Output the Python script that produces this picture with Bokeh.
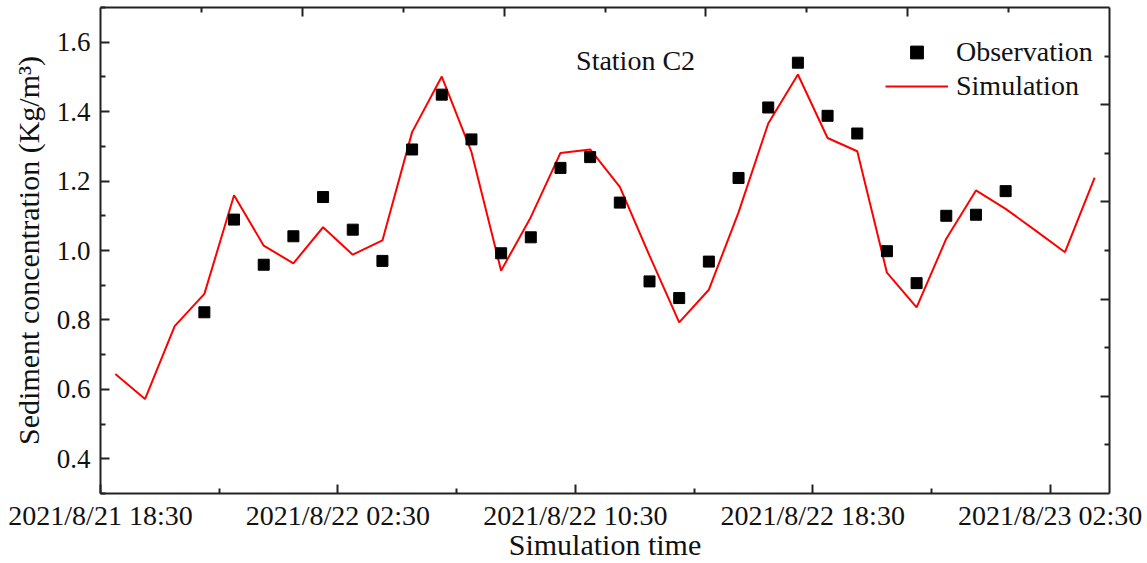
import pandas as pd
from bokeh.plotting import figure
from bokeh.models import (Range1d, LinearAxis, FixedTicker, Label, Legend,
                          LegendItem, PrintfTickFormatter, ColumnDataSource,
                          CustomJSTickFormatter)
from bokeh.embed import file_html
from bokeh.resources import INLINE

# ---------------- data ----------------
start_time = "2021/8/21 18:30"
end_time = "2021/8/23 04:30"

sim_times = pd.date_range("2021-08-21 19:00", "2021-08-23 04:00", freq="h")
sim_values = [0.644, 0.572, 0.782, 0.875, 1.159,
              1.014, 0.963, 1.067, 0.988, 1.029, 1.341, 1.501, 1.284,
              0.942, 1.096, 1.281, 1.291, 1.183, 0.985, 0.793, 0.887,
              1.110, 1.366, 1.507, 1.324, 1.286, 0.936, 0.836, 1.034,
              1.173, 1.120, 1.058, 0.995, 1.210]

obs_times = pd.date_range("2021-08-21 22:00", "2021-08-23 01:00", freq="h")
obs_values = [0.822, 1.089,
              0.959, 1.041, 1.154, 1.060, 0.970, 1.291, 1.449, 1.320,
              0.992, 1.038, 1.238, 1.269, 1.138, 0.911, 0.863, 0.968,
              1.209, 1.412, 1.541, 1.388, 1.337, 0.998, 0.906, 1.100,
              1.103, 1.171]

x_tick_labels = ["2021/8/21 18:30", "2021/8/22 02:30", "2021/8/22 10:30",
                 "2021/8/22 18:30", "2021/8/23 02:30"]
x_minor_labels = ["2021/8/21 22:30", "2021/8/22 06:30", "2021/8/22 14:30",
                  "2021/8/22 22:30"]
y_ticks = [0.4, 0.6, 0.8, 1.0, 1.2, 1.4, 1.6]
y_minor = [0.3, 0.5, 0.7, 0.9, 1.1, 1.3, 1.5, 1.7]
frac_ticks = [0.2, 0.4, 0.6, 0.8]
frac_minor = [0.1, 0.3, 0.5, 0.7, 0.9]

station_name = "Station C2"

# ---------------- helpers ----------------
FMT = "%Y/%m/%d %H:%M"
t0 = pd.to_datetime(start_time, format=FMT)
t1 = pd.to_datetime(end_time, format=FMT)


def hours(ts):
    return [(pd.Timestamp(t) - t0) / pd.Timedelta(hours=1) for t in ts]


x_tick_pos = hours(pd.to_datetime(x_tick_labels, format=FMT))
x_minor_pos = hours(pd.to_datetime(x_minor_labels, format=FMT))

FONT = "Liberation Serif"
AX = "#222222"

p = figure(width=1145, height=563, output_backend="svg", toolbar_location=None,
           x_range=Range1d(0, hours([t1])[0]), y_range=Range1d(0.3, 1.7),
           x_axis_type=None, y_axis_type=None,
           min_border_left=100, min_border_right=36, min_border_top=7,
           min_border_bottom=70)
p.extra_x_ranges = {"frac": Range1d(0, 1)}
p.extra_y_ranges = {"fracy": Range1d(0, 1)}
p.grid.visible = False
p.outline_line_color = None
p.background_fill_color = "white"
p.border_fill_color = "white"


def style(ax):
    ax.axis_line_color = AX
    ax.axis_line_width = 2
    ax.major_tick_line_color = AX
    ax.major_tick_line_width = 2
    ax.minor_tick_line_color = AX
    ax.minor_tick_line_width = 2
    ax.major_tick_in = 9
    ax.major_tick_out = 0
    ax.minor_tick_in = 5
    ax.minor_tick_out = 0
    ax.major_label_text_font = FONT
    ax.major_label_text_color = "#111111"
    ax.axis_label_text_font = FONT
    ax.axis_label_text_font_style = "normal"
    ax.axis_label_text_color = "#111111"


xaxis = LinearAxis(ticker=FixedTicker(ticks=x_tick_pos, minor_ticks=x_minor_pos),
                   axis_label="Simulation time")
xaxis.major_label_overrides = {float(k) if float(k) != int(k) else int(k): v
                               for k, v in zip(x_tick_pos, x_tick_labels)}
style(xaxis)
xaxis.major_label_text_font_size = "28px"
xaxis.axis_label_text_font_size = "30px"
xaxis.major_label_standoff = 6
xaxis.axis_label_standoff = -6
p.add_layout(xaxis, "below")

yaxis = LinearAxis(ticker=FixedTicker(ticks=y_ticks, minor_ticks=y_minor),
                   formatter=PrintfTickFormatter(format="%.1f"),
                   axis_label="Sediment concentration (Kg/m³)")
style(yaxis)
yaxis.major_label_text_font_size = "27px"
yaxis.axis_label_text_font_size = "30px"
yaxis.major_label_standoff = 10
yaxis.axis_label_standoff = 9
p.add_layout(yaxis, "left")

blank = CustomJSTickFormatter(code="return ''")

top = LinearAxis(x_range_name="frac", formatter=blank,
                 ticker=FixedTicker(ticks=frac_ticks, minor_ticks=frac_minor))
style(top)
top.major_label_standoff = 0
p.add_layout(top, "above")

right = LinearAxis(y_range_name="fracy", formatter=blank,
                   ticker=FixedTicker(ticks=frac_ticks, minor_ticks=frac_minor))
style(right)
right.major_label_standoff = 0
p.add_layout(right, "right")

sim_src = ColumnDataSource(dict(x=hours(sim_times), y=sim_values))
obs_src = ColumnDataSource(dict(x=hours(obs_times), y=obs_values))

r_sim = p.line("x", "y", source=sim_src, line_color="#ff0000", line_width=2)
r_obs = p.scatter("x", "y", source=obs_src, marker="square", size=11,
                  fill_color="black", line_color="black")

legend = Legend(items=[LegendItem(label="Observation", renderers=[r_obs]),
                       LegendItem(label="Simulation", renderers=[r_sim])],
                location=(785, 391), orientation="vertical",
                glyph_width=63, glyph_height=32, label_standoff=8, spacing=2,
                padding=0, margin=0, border_line_color=None,
                background_fill_alpha=0,
                label_text_font=FONT, label_text_font_size="28px",
                label_text_color="#111111")
p.add_layout(legend)

station = Label(x=18.03, y=1.548, text=station_name, text_align="center",
                text_baseline="alphabetic", text_font=FONT,
                text_font_size="28px", text_color="#111111")
p.add_layout(station)

open("out.html", "w").write(file_html(p, INLINE))
